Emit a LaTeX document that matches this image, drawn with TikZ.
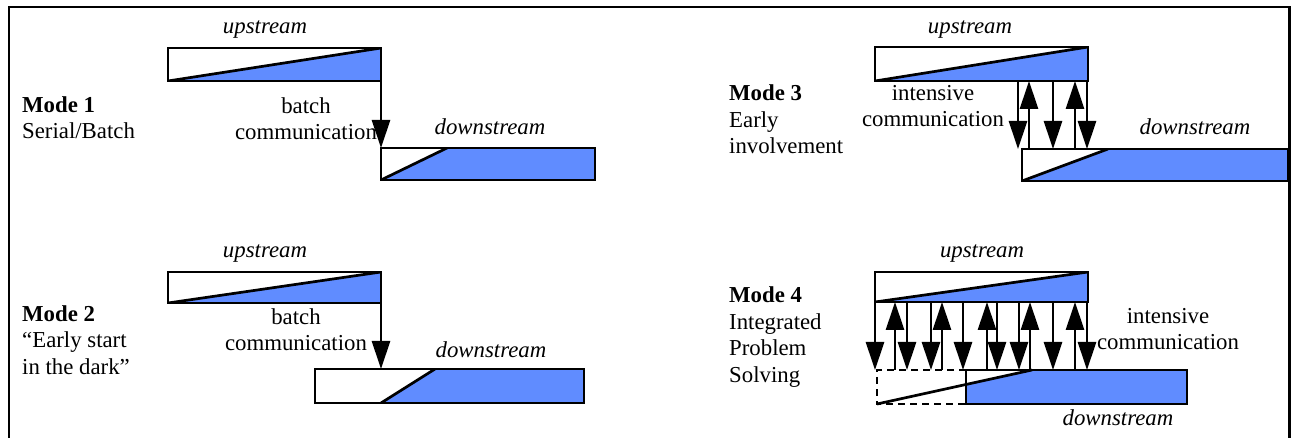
\documentclass[tikz,border=0pt]{standalone}
\usepackage{fontspec}
\setmainfont{Liberation Serif}
\usetikzlibrary{arrows.meta,calc}
\definecolor{effortblue}{RGB}{96,140,255}
\tikzset{
  phase/.style={draw, line width=2.7pt, rectangle, inner sep=0pt, outer sep=0pt},
  upphase/.style={phase, path picture={
      \fill[effortblue] (path picture bounding box.south west)
        -- (path picture bounding box.north east)
        -- (path picture bounding box.south east) -- cycle;
      \draw[line width=2.7pt] (path picture bounding box.south west)
        -- (path picture bounding box.north east);}},
  txt/.style={font=\fontsize{22.8}{26.5}\selectfont, inner sep=0pt, align=center},
  lbl/.style={font=\fontsize{22.8}{26.5}\selectfont, inner sep=0pt, align=left, anchor=base west},
  dn/.style={line width=2.7pt, -{Triangle[width=18pt,length=28pt]}},
}
\begin{document}
\begin{tikzpicture}[x=1pt, y=-1pt]
\useasboundingbox (0,0) rectangle (1291,438);
% outer frame, open at the bottom
\draw[line width=2.8pt] (9,445) -- (9,7) -- (1289.5,7) -- (1289.5,445);

% ---------------- Mode 1 ----------------
\node[upphase, minimum width=213pt, minimum height=33pt] (u1) at (274.5,64.5) {};
\node[phase, minimum width=214pt, minimum height=32pt, path picture={
    \fill[effortblue] (path picture bounding box.south west) -- ++(66pt,32pt)
      -| (path picture bounding box.south east) -- cycle;
    \draw[line width=2.7pt] (path picture bounding box.south west) -- ++(66pt,32pt);}]
  (d1) at (488,164) {};
\draw[dn] (u1.south east) -- (d1.north west);
\node[txt, anchor=base] (t1u) at (265,34) {\itshape upstream};
\node[txt, anchor=base] (t1d) at (490,135) {\itshape downstream};
\node[txt, anchor=base] (t1c) at (306,140) {batch\\communication};
\node[lbl] (m1) at (22,139) {\textbf{Mode 1}\\Serial/Batch};

% ---------------- Mode 2 ----------------
\node[upphase, minimum width=213pt, minimum height=31pt] (u2) at (274.5,287.5) {};
\node[phase, minimum width=269pt, minimum height=34pt, path picture={
    \fill[effortblue] ([xshift=66pt]path picture bounding box.south west) -- ++(54pt,34pt)
      -| (path picture bounding box.south east) -- cycle;
    \draw[line width=2.7pt] ([xshift=66pt]path picture bounding box.south west) -- ++(54pt,34pt);}]
  (d2) at (449.5,386) {};
\draw[dn] (u2.south east) -- (u2.south east |- d2.north);
\node[txt, anchor=base] (t2u) at (265,258) {\itshape upstream};
\node[txt, anchor=base] (t2d) at (491,358) {\itshape downstream};
\node[txt, anchor=base] (t2c) at (296,351) {batch\\communication};
\node[lbl] (m2) at (22,374) {\textbf{Mode 2}\\“Early start\\in the dark”};

% ---------------- Mode 3 ----------------
\node[upphase, minimum width=213pt, minimum height=34pt] (u3) at (981.5,64) {};
\node[phase, minimum width=266pt, minimum height=32pt, path picture={
    \fill[effortblue] (path picture bounding box.south west) -- ++(86pt,32pt)
      -| (path picture bounding box.south east) -- cycle;
    \draw[line width=2.7pt] (path picture bounding box.south west) -- ++(86pt,32pt);}]
  (d3) at (1155,165) {};
\foreach \x in {1018,1053,1087} \draw[dn] (u3.south -| \x,0) -- (d3.north -| \x,0);
\foreach \x in {1029,1075} \draw[dn] (d3.north -| \x,0) -- (u3.south -| \x,0);
\node[txt, anchor=base] (t3u) at (970,34) {\itshape upstream};
\node[txt, anchor=base] (t3d) at (1195,135) {\itshape downstream};
\node[txt, anchor=base] (t3c) at (933,127) {intensive\\communication};
\node[lbl] (m3) at (729,154) {\textbf{Mode 3}\\Early\\involvement};

% ---------------- Mode 4 ----------------
\node[upphase, minimum width=213pt, minimum height=30pt] (u4) at (981.5,287) {};
% provisional start of the downstream phase (dashed)
\coordinate (d4a) at (877,404);
\coordinate (d4b) at (1032,370);
\node[phase, minimum width=221pt, minimum height=34pt, path picture={
    \fill[effortblue] (d4a) -- (d4b) -| (path picture bounding box.south east) -- cycle;
  }] (d4) at (1076.5,387) {};
\draw[line width=2.7pt, dash pattern=on 7pt off 5pt] (d4.north west) -- (d4.north west -| d4a)
  -- (d4a) -- (d4.south west);
\draw[line width=2.7pt] (d4a) -- (d4b);
\foreach \x in {875,907,931,963,997,1019,1053,1087} \draw[dn] (u4.south -| \x,0) -- (d4.north -| \x,0);
\foreach \x in {895,942,987,1030,1075} \draw[dn] (d4.north -| \x,0) -- (u4.south -| \x,0);
\node[txt, anchor=base] (t4u) at (982,258) {\itshape upstream};
\node[txt, anchor=base] (t4d) at (1118,425) {\itshape downstream};
\node[txt, anchor=base] (t4c) at (1168,350) {intensive\\communication};
\node[lbl] (m4) at (729,382) {\textbf{Mode 4}\\Integrated\\Problem\\Solving};
\end{tikzpicture}
\end{document}
